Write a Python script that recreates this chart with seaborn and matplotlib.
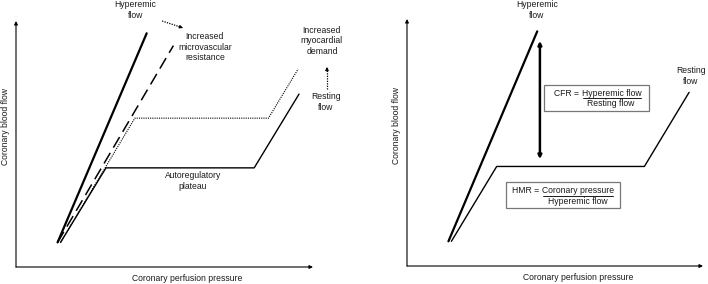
import matplotlib
matplotlib.use("Agg")
import matplotlib.pyplot as plt
import seaborn as sns
from matplotlib.patches import Rectangle

# schematic curves, arbitrary units (pressure 0-100, flow 0-100)
hyper_p = [14, 44]
hyper_f = [10, 95]
micro_p = [14, 53]
micro_f = [10, 90]
demand_p = [15, 40, 85, 95]
demand_f = [10, 60.5, 60.5, 80.5]
rest_p = [15, 30.3, 80.2, 95.3]
rest_f = [10, 40.3, 40.3, 70.3]

x_label = "Coronary perfusion pressure"
y_label = "Coronary blood flow"

sns.set_style("white")
plt.rcParams['font.family'] = ['Liberation Sans', 'DejaVu Sans']
TXT = '#1a1a1a'
FS = 6.2

fig = plt.figure(figsize=(7.08, 2.84), dpi=100)
ax1 = fig.add_axes([16 / 708, 17 / 284, 297 / 708, 246 / 284])
ax2 = fig.add_axes([407 / 708, 18 / 284, 296 / 708, 247 / 284])


def setup(ax, ylab_y):
    ax.set_xlim(0, 100)
    ax.set_ylim(0, 100)
    ax.axis('off')
    arrow = dict(arrowstyle='-|>', lw=0.8, color='black', mutation_scale=5,
                 shrinkA=0, shrinkB=0)
    ax.annotate('', xy=(1, 0), xytext=(0, 0), xycoords='axes fraction',
                arrowprops=arrow)
    ax.annotate('', xy=(0, 1), xytext=(0, 0), xycoords='axes fraction',
                arrowprops=arrow)
    ax.text(0.578, -0.045, x_label, transform=ax.transAxes, ha='center',
            va='center', fontsize=FS, color=TXT)
    ax.text(-0.037, ylab_y, y_label, transform=ax.transAxes, ha='center',
            va='center', rotation=90, fontsize=FS, color=TXT)


def dotted_arrow(ax, x0, y0, x1, y1):
    # dotted shaft plus a small solid head
    ax.plot([x0, x1], [y0, y1], color='black', lw=0.9, linestyle=(0, (1, 1)),
            clip_on=False)
    dx, dy = (x1 - x0) * 0.2, (y1 - y0) * 0.2
    ax.annotate('', xy=(x1, y1), xytext=(x1 - dx, y1 - dy),
                arrowprops=dict(arrowstyle='-|>', lw=0.6, color='black',
                                mutation_scale=5, shrinkA=0, shrinkB=0),
                annotation_clip=False)


setup(ax1, 0.57)
setup(ax2, 0.57)

# left panel
sns.lineplot(x=hyper_p, y=hyper_f, ax=ax1, color='black', lw=1.6)
sns.lineplot(x=micro_p, y=micro_f, ax=ax1, color='black', lw=1.1,
             linestyle=(0, (8, 4)))
sns.lineplot(x=demand_p, y=demand_f, ax=ax1, color='black', lw=0.8,
             linestyle=(0, (1, 1)))
sns.lineplot(x=rest_p, y=rest_f, ax=ax1, color='black', lw=1.0)

kw = dict(ha='center', va='center', fontsize=FS, color=TXT,
          linespacing=1.25, clip_on=False)
ax1.text(40.1, 104.5, "Hyperemic\nflow", **kw)
ax1.text(63.6, 89.4, "Increased\nmicrovascular\nresistance", **kw)
ax1.text(103, 91.9, "Increased\nmyocardial\ndemand", **kw)
ax1.text(104.4, 67.1, "Resting\nflow", **kw)
ax1.text(59.6, 35, "Autoregulatory\nplateau", **kw)
dotted_arrow(ax1, 49.2, 100, 56.2, 97.2)
dotted_arrow(ax1, 104.7, 72.5, 104.7, 81.3)

# right panel
sns.lineplot(x=hyper_p, y=hyper_f, ax=ax2, color='black', lw=1.6)
sns.lineplot(x=rest_p, y=rest_f, ax=ax2, color='black', lw=1.0)
ax2.text(43.9, 103.6, "Hyperemic\nflow", **kw)
ax2.text(95.9, 76.9, "Resting\nflow", **kw)
ax2.annotate('', xy=(44.9, 91.1), xytext=(44.9, 43.3),
             arrowprops=dict(arrowstyle='<|-|>', lw=1.8, color='black',
                             mutation_scale=5, shrinkA=0, shrinkB=0))

box = dict(fill=False, edgecolor='#777777', lw=0.9)
# CFR box
ax2.add_patch(Rectangle((46.3, 62.8), 35.5, 10.5, **box))
ax2.text(49.8, 70.0, "CFR =", ha='left', va='center', fontsize=FS, color=TXT)
ax2.text(69.2, 70.0, "Hyperemic flow", ha='center', va='center',
         fontsize=FS, color=TXT)
ax2.plot([59.6, 79.1], [68.0, 68.0], color=TXT, lw=0.7)
ax2.text(68.8, 65.9, "Resting flow", ha='center', va='center',
         fontsize=FS, color=TXT)
# HMR box
ax2.add_patch(Rectangle((33.4, 23.5), 38.6, 10.5, **box))
ax2.text(35.6, 30.4, "HMR =", ha='left', va='center', fontsize=FS, color=TXT)
ax2.text(57.8, 30.4, "Coronary pressure", ha='center', va='center',
         fontsize=FS, color=TXT)
ax2.plot([46.0, 69.5], [28.2, 28.2], color=TXT, lw=0.7)
ax2.text(57.8, 26.2, "Hyperemic flow", ha='center', va='center',
         fontsize=FS, color=TXT)

fig.savefig("out.png", dpi=100)
